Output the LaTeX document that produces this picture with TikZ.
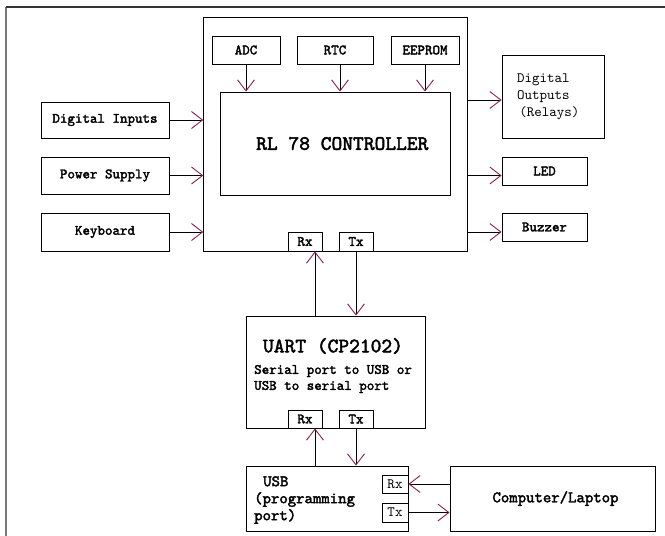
\documentclass[tikz,border=0pt]{standalone}
\usepackage{fontspec}
\setmonofont[BoldFont=lmmono10-regular.otf, BoldFeatures={FakeBold=2.2}]{lmmono10-regular.otf}
\usepackage{xcolor}
\usetikzlibrary{arrows.meta}

\definecolor{tipred}{RGB}{139,30,80}
\definecolor{framegray}{RGB}{120,120,120}

\begin{document}
\begin{tikzpicture}[x=1pt,y=-1pt]
        % Define styles
        \tikzset{
            box/.style={rectangle, draw, line width=0.9pt, inner sep=0pt},
            lbl/.style={font=\fontsize{14.3}{17}\selectfont\ttfamily\bfseries},
            big/.style={font=\fontsize{20.5}{24}\selectfont\ttfamily\bfseries},
            mid/.style={font=\fontsize{16}{17}\selectfont\ttfamily\bfseries},
            arrow/.style={line width=0.9pt, -{Straight Barb[length=11pt, width=17pt, color=tipred]}}
        }
        \useasboundingbox (0,0) rectangle (665,536);

        % Frame
        \draw[framegray, line width=2pt] (6,7) -- (6,536);
        \draw[black!80, line width=1.2pt] (6,7) -- (665,7);

        % Controller block
        \node[box, minimum width=264pt, minimum height=234pt] (mcu_node) at (335.7,134) {};
        \node[box, lbl, minimum width=68pt, minimum height=28pt] (adc_node) at (246,50) {ADC};
        \node[box, lbl, minimum width=76pt, minimum height=28pt] (rtc_node) at (335,50) {RTC};
        \node[box, lbl, minimum width=68pt, minimum height=28pt] (eeprom_node) at (425,50) {EEPROM};
        \node[box, big, minimum width=229.5pt, minimum height=103pt] (ctrl_node) at (335.3,143.5) {\hspace*{14pt}RL 78 CONTROLLER};
        \node[box, lbl, minimum width=34pt, minimum height=19pt] (rx_mcu_node) at (305,241.5) {Rx};
        \node[box, lbl, minimum width=34pt, minimum height=19pt] (tx_mcu_node) at (356,241.5) {Tx};

        % Inputs
        \node[box, lbl, minimum width=128pt, minimum height=36pt] (din_node) at (105,120) {Digital Inputs};
        \node[box, lbl, minimum width=128pt, minimum height=37pt] (pwr_node) at (105,175.5) {Power Supply};
        \node[box, lbl, minimum width=128pt, minimum height=38pt] (kbd_node) at (105,232) {Keyboard};

        % Outputs
        \node[box, minimum width=102pt, minimum height=83pt, align=left, text width=72pt,
              font=\fontsize{14.3}{17}\selectfont\ttfamily] (dout_node) at (553,96.5) {Digital\\Outputs\\\,(Relays)};
        \node[box, lbl, minimum width=85pt, minimum height=28pt] (led_node) at (544.5,171) {LED};
        \node[box, lbl, minimum width=85pt, minimum height=28pt] (buz_node) at (544.5,227) {Buzzer};

        % UART
        \node[box, minimum width=179pt, minimum height=112pt] (uart_node) at (335.5,372) {};
        \node[big] (uart_title) at (333,346) {UART (CP2102)};
        \node[lbl, align=left, anchor=west, inner sep=0pt,
              font=\fontsize{14.3}{16}\selectfont\ttfamily\bfseries] (uart_text) at (254,379) {Serial port to USB or\\USB to serial port};
        \node[box, lbl, minimum width=34pt, minimum height=18pt] (rx_uart_node) at (305,419) {Rx};
        \node[box, lbl, minimum width=34pt, minimum height=18pt] (tx_uart_node) at (356,419) {Tx};

        % USB and computer
        \node[box, minimum width=162pt, minimum height=65pt] (usb_node) at (327,498.5) {};
        \node[mid, align=left, anchor=west, inner sep=0pt] (usb_text) at (254,500) {\hspace*{9pt}USB\\(programming\\port)};
        \node[box, minimum width=26pt, minimum height=18pt, font=\fontsize{14.3}{17}\selectfont\ttfamily] (rx_usb_node) at (395,484) {Rx};
        \node[box, minimum width=26pt, minimum height=19pt, font=\fontsize{14.3}{17}\selectfont\ttfamily] (tx_usb_node) at (395,512.5) {Tx};
        \node[box, mid, minimum width=205pt, minimum height=65pt] (pc_node) at (552.5,498.5) {\hspace*{6pt}Computer/Laptop};

        % Arrows
        \draw[arrow] (adc_node.south) -- (adc_node.south |- ctrl_node.north);
        \draw[arrow] ([xshift=5pt]rtc_node.south) -- ([xshift=5pt]rtc_node.south |- ctrl_node.north);
        \draw[arrow] (eeprom_node.south) -- (eeprom_node.south |- ctrl_node.north);
        \draw[arrow] (din_node.east) -- (din_node.east -| mcu_node.west);
        \draw[arrow] (pwr_node.east) -- (pwr_node.east -| mcu_node.west);
        \draw[arrow] (kbd_node.east) -- (kbd_node.east -| mcu_node.west);
        \draw[arrow] ([yshift=-3.5pt]dout_node.west -| mcu_node.east) -- ([yshift=-3.5pt]dout_node.west);
        \draw[arrow] (pwr_node.east -| mcu_node.east) -- (pwr_node.east -| led_node.west);
        \draw[arrow] (kbd_node.east -| mcu_node.east) -- (kbd_node.east -| buz_node.west);
        \draw[arrow] ([xshift=10pt]rx_mcu_node.south |- uart_node.north) -- ([xshift=10pt]rx_mcu_node.south);
        \draw[arrow] (tx_mcu_node.south) -- (tx_mcu_node.south |- uart_node.north);
        \draw[arrow] ([xshift=10pt]rx_uart_node.south |- usb_node.north) -- ([xshift=10pt]rx_uart_node.south);
        \draw[arrow] (tx_uart_node.south) -- (tx_uart_node.south |- usb_node.north);
        \draw[arrow] (rx_usb_node.east -| pc_node.west) -- (rx_usb_node.east);
        \draw[arrow] (tx_usb_node.east) -- (tx_usb_node.east -| pc_node.west);
\end{tikzpicture}
\end{document}
